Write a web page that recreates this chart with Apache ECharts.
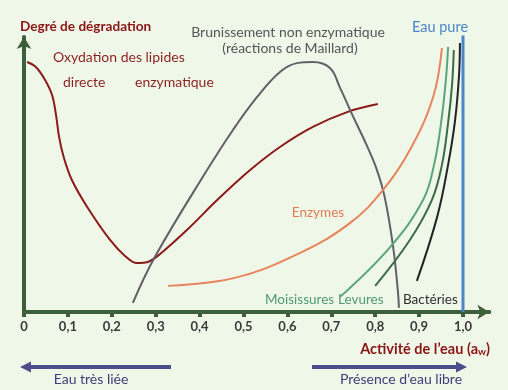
<!DOCTYPE html>
<html><head><meta charset="utf-8">
<script src="https://cdn.jsdelivr.net/npm/echarts@6/dist/echarts.min.js"></script>
<style>html,body{margin:0;padding:0;background:#eff7e9}#c{width:508px;height:390px}</style>
</head><body><div id="c"></div>
<script>
// Tick values of the water-activity axis
const xTicks = [0, 0.1, 0.2, 0.3, 0.4, 0.5, 0.6, 0.7, 0.8, 0.9, 1.0];
// Curves: [aw, degradation degree (0-100)]
const lipidOxidation = [[0.007,90.9],[0.027,89.1],[0.048,84.4],[0.064,78.9],[0.073,71.6],[0.080,63.6],[0.091,56.0],[0.109,48.0],[0.144,38.2],[0.196,26.2],[0.230,20.4],[0.257,17.8],[0.282,18.2],[0.310,21.1],[0.371,29.8],[0.44,40.7],[0.515,51.6],[0.583,60],[0.658,67.3],[0.736,72.7],[0.806,75.6]];
const browning = [[0.248,3.3],[0.298,20],[0.417,51.6],[0.476,66.2],[0.531,78.2],[0.583,87.3],[0.622,90.5],[0.658,90.9],[0.697,88.7],[0.72,81.5],[0.749,71.3],[0.781,60.5],[0.804,51.6],[0.822,41.5],[0.841,23.5],[0.852,7],[0.854,1.5]];
const enzymes = [[0.328,9.5],[0.480,12.4],[0.629,21.5],[0.743,32.4],[0.818,44.4],[0.879,58.9],[0.932,78.2],[0.952,96]];
const moulds = [[0.720,5.5],[0.834,23.6],[0.909,40.7],[0.934,53.5],[0.950,68.7],[0.961,84.4],[0.966,96.4]];
const yeasts = [[0.800,9.5],[0.879,26.2],[0.929,40.7],[0.952,53.5],[0.966,68.7],[0.975,82.5],[0.979,95.3]];
const bacteria = [[0.895,11.3],[0.941,34.5],[0.966,53.5],[0.982,69.8],[0.991,86.2],[0.993,97.8]];
const pureWater = [[1.0,0],[1.0,100.7]];

const chart = echarts.init(document.getElementById('c'), null, {renderer:'canvas'});
const FONT = 'Lato';
const axisGreen = '#3e5f3b';
function line(data, color, width, smooth){
  return {type:'line', data, symbol:'none', smooth: smooth, lineStyle:{color, width}, silent:true, z:3};
}
chart.setOption({
  backgroundColor:'#eff7e9',
  animation:false,
  grid:{left:24, right:18.66, top:37, bottom:78},
  xAxis:{type:'value', min:0, max:1.06,
    axisLine:{show:true, symbol:['none','arrow'], symbolSize:[11,12], lineStyle:{color:axisGreen, width:4}},
    axisTick:{show:true, customValues:xTicks, length:5, lineStyle:{color:axisGreen, width:4}},
    axisLabel:{show:true, customValues:xTicks, margin:8, fontFamily:FONT, fontSize:13, fontWeight:'bold', color:'#3a3a3a',
      formatter:v => v===0 ? '0' : v.toFixed(1).replace('.', ',')},
    splitLine:{show:false}},
  yAxis:{type:'value', min:0, max:100,
    axisLine:{show:true, symbol:['none','arrow'], symbolSize:[11,12], lineStyle:{color:axisGreen, width:4}},
    axisTick:{show:false}, axisLabel:{show:false}, splitLine:{show:false}},
  series:[
    line(pureWater, '#4a86c8', 3, false),
    line(lipidOxidation, '#8b1a1a', 2, 0.35),
    line(browning, '#625f66', 2, 0.4),
    line(enzymes, '#e8845c', 2, 0.4),
    line(moulds, '#5aa57a', 2, 0.4),
    line(yeasts, '#3d6b48', 2, 0.4),
    line(bacteria, '#222222', 2, 0.4)
  ],
  graphic:[
    {type:'text', left:20, y:27, style:{text:'Degré de dégradation', fill:'#8b1414', font:'bold 13.6px '+FONT, verticalAlign:'middle'}},
    {type:'text', left:53, y:57, style:{text:'Oxydation des lipides', fill:'#8b1f1f', font:'14px '+FONT, verticalAlign:'middle'}},
    {type:'text', left:63, y:82, style:{text:'directe', fill:'#8b1f1f', font:'14px '+FONT, verticalAlign:'middle'}},
    {type:'text', left:135, y:82, style:{text:'enzymatique', fill:'#8b1f1f', font:'14px '+FONT, verticalAlign:'middle'}},
    {type:'text', x:288, y:32, style:{text:'Brunissement non enzymatique', fill:'#555558', font:'14px '+FONT, align:'center', verticalAlign:'middle'}},
    {type:'text', x:290, y:48, style:{text:'(réactions de Maillard)', fill:'#555558', font:'14px '+FONT, align:'center', verticalAlign:'middle'}},
    {type:'text', x:440, y:27, style:{text:'Eau pure', fill:'#4a86c8', font:'14.5px '+FONT, align:'center', verticalAlign:'middle'}},
    {type:'text', x:318, y:213, style:{text:'Enzymes', fill:'#e07a50', font:'13.5px '+FONT, align:'center', verticalAlign:'middle'}},
    {type:'text', x:265, y:300, style:{text:'Moisissures', fill:'#4e9a6e', font:'13.5px '+FONT, verticalAlign:'middle'}},
    {type:'text', x:338, y:300, style:{text:'Levures', fill:'#4e9a6e', font:'13.5px '+FONT, verticalAlign:'middle'}},
    {type:'text', x:403, y:300, style:{text:'Bactéries', fill:'#2e2e2e', font:'13.5px '+FONT, verticalAlign:'middle'}},
    {type:'text', right:18, y:349, style:{text:"{t|Activité de l’eau (a}{s|w}{t|)}", verticalAlign:'middle',
      rich:{t:{fill:'#8b1414', font:'bold 14.5px '+FONT}, s:{fill:'#8b1414', font:'bold 10px '+FONT, verticalAlign:'bottom', padding:[6,0,0,0]}}}},
    {type:'line', shape:{x1:30, y1:367, x2:171, y2:367}, style:{stroke:'#4b4d8c', lineWidth:4}},
    {type:'polygon', shape:{points:[[20,367],[31,361.5],[31,372.5]]}, style:{fill:'#4b4d8c'}},
    {type:'text', x:91, y:379, style:{text:'Eau très liée', fill:'#3c3f77', font:'14px '+FONT, align:'center', verticalAlign:'middle'}},
    {type:'line', shape:{x1:312, y1:367, x2:457, y2:367}, style:{stroke:'#4b4d8c', lineWidth:4}},
    {type:'polygon', shape:{points:[[467,367],[456,361.5],[456,372.5]]}, style:{fill:'#4b4d8c'}},
    {type:'text', x:401, y:379, style:{text:'Présence d’eau libre', fill:'#3c3f77', font:'14px '+FONT, align:'center', verticalAlign:'middle'}}
  ]
});
</script></body></html>
